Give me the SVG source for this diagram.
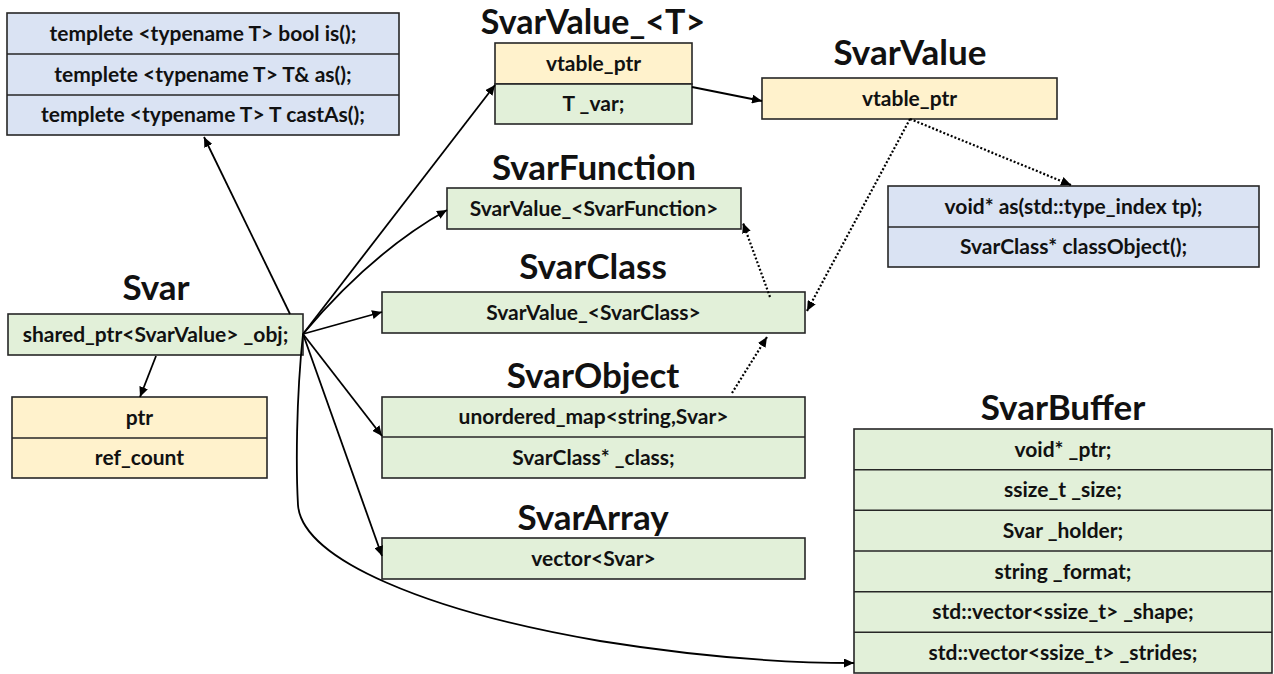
<svg xmlns="http://www.w3.org/2000/svg" width="1274" height="674" viewBox="0 0 1274 674">
<style>
.box{stroke:#262626;stroke-width:1.6}
.blue{fill:#DAE3F3}
.yel{fill:#FFF2CC}
.grn{fill:#E2F0D9}
.sep{stroke:#262626;stroke-width:1.6}
.t{font-family:Lato,"Liberation Sans",sans-serif;font-weight:bold;font-size:21px;fill:#111;text-anchor:middle}
.h{font-family:Lato,"Liberation Sans",sans-serif;font-weight:bold;font-size:35px;fill:#111;text-anchor:middle}
.c{fill:none;stroke:#000;stroke-width:1.8}
.d{fill:none;stroke:#000;stroke-width:2.2;stroke-dasharray:2 2}
</style>
<defs>
<marker id="a" markerUnits="userSpaceOnUse" markerWidth="10" markerHeight="9" refX="10" refY="4.5" orient="auto">
<path d="M0,0 L10,4.5 L0,9 z" fill="#000"/>
</marker>
</defs>
<g id="methods">
<rect class="box blue" x="7" y="13" width="392" height="122"/>
<line class="sep" x1="7" y1="54" x2="399" y2="54"/>
<line class="sep" x1="7" y1="95" x2="399" y2="95"/>
<text class="t" x="203" y="41">templete &lt;typename T&gt; bool is();</text>
<text class="t" x="203" y="82">templete &lt;typename T&gt; T&amp; as();</text>
<text class="t" x="203" y="122">templete &lt;typename T&gt; T castAs();</text>
</g>
<g id="SvarValueT">
<text class="h" x="593" y="34" style="font-size:34px">SvarValue_&lt;T&gt;</text>
<rect class="box yel" x="495" y="43" width="197" height="41"/>
<rect class="box grn" x="495" y="84" width="197" height="40"/>
<text class="t" x="593.5" y="71">vtable_ptr</text>
<text class="t" x="593.5" y="111">T _var;</text>
</g>
<g id="SvarValue">
<text class="h" x="910" y="65">SvarValue</text>
<rect class="box yel" x="762" y="78" width="295" height="41"/>
<text class="t" x="909.5" y="106">vtable_ptr</text>
</g>
<g id="vmethods">
<rect class="box blue" x="888" y="186" width="371" height="81"/>
<line class="sep" x1="888" y1="227" x2="1259" y2="227"/>
<text class="t" x="1073.5" y="214">void* as(std::type_index tp);</text>
<text class="t" x="1073.5" y="254">SvarClass* classObject();</text>
</g>
<g id="SvarFunction">
<text class="h" x="594" y="180">SvarFunction</text>
<rect class="box grn" x="447" y="188" width="294" height="41"/>
<text class="t" x="594" y="216">SvarValue_&lt;SvarFunction&gt;</text>
</g>
<g id="SvarClass">
<text class="h" x="593" y="279">SvarClass</text>
<rect class="box grn" x="382" y="292" width="423" height="41"/>
<text class="t" x="593.5" y="320">SvarValue_&lt;SvarClass&gt;</text>
</g>
<g id="SvarObject">
<text class="h" x="593" y="388">SvarObject</text>
<rect class="box grn" x="382" y="397" width="423" height="81"/>
<line class="sep" x1="382" y1="437" x2="805" y2="437"/>
<text class="t" x="593.5" y="424">unordered_map&lt;string,Svar&gt;</text>
<text class="t" x="593.5" y="465">SvarClass* _class;</text>
</g>
<g id="SvarArray">
<text class="h" x="593" y="530">SvarArray</text>
<rect class="box grn" x="382" y="538" width="423" height="41"/>
<text class="t" x="593.5" y="566">vector&lt;Svar&gt;</text>
</g>
<g id="Svar">
<text class="h" x="156" y="300">Svar</text>
<rect class="box grn" x="8" y="314" width="295" height="41"/>
<text class="t" x="155.5" y="342">shared_ptr&lt;SvarValue&gt; _obj;</text>
</g>
<g id="SharedPtr">
<rect class="box yel" x="12" y="397" width="255" height="81"/>
<line class="sep" x1="12" y1="438" x2="267" y2="438"/>
<text class="t" x="139.5" y="425">ptr</text>
<text class="t" x="139.5" y="465">ref_count</text>
</g>
<g id="SvarBuffer">
<text class="h" x="1063" y="420">SvarBuffer</text>
<rect class="box grn" x="854" y="429" width="418" height="244"/>
<line class="sep" x1="854" y1="469.7" x2="1272" y2="469.7"/>
<line class="sep" x1="854" y1="510.3" x2="1272" y2="510.3"/>
<line class="sep" x1="854" y1="551" x2="1272" y2="551"/>
<line class="sep" x1="854" y1="591.7" x2="1272" y2="591.7"/>
<line class="sep" x1="854" y1="632.3" x2="1272" y2="632.3"/>
<text class="t" x="1063" y="457">void* _ptr;</text>
<text class="t" x="1063" y="497">ssize_t  _size;</text>
<text class="t" x="1063" y="538">Svar _holder;</text>
<text class="t" x="1063" y="579">string _format;</text>
<text class="t" x="1063" y="619">std::vector&lt;ssize_t&gt; _shape;</text>
<text class="t" x="1063" y="660">std::vector&lt;ssize_t&gt; _strides;</text>
</g>
<g id="connectors">
<path class="c" marker-end="url(#a)" d="M290,314 L204,137"/>
<path class="c" marker-end="url(#a)" d="M303,334 L495,85"/>
<path class="c" marker-end="url(#a)" d="M303,334 Q372,252 447,210"/>
<path class="c" marker-end="url(#a)" d="M303,334 L382,312"/>
<path class="c" marker-end="url(#a)" d="M303,334 L382,436"/>
<path class="c" marker-end="url(#a)" d="M303,334 L382,556"/>
<path class="c" marker-end="url(#a)" d="M303,334 C296,400 296,470 298,505 C302,560 430,612 600,641 C700,657 790,663 854,663"/>
<path class="c" marker-end="url(#a)" d="M156,356 L140,397"/>
<path class="c" marker-end="url(#a)" d="M692,87 L762,101"/>
<path class="d" marker-end="url(#a)" d="M910,119 L1071,185"/>
<path class="d" marker-end="url(#a)" d="M910,119 L807,311"/>
<path class="d" marker-end="url(#a)" d="M770,297 L743,223"/>
<path class="d" marker-end="url(#a)" d="M732,393 L767,337"/>
</g>
</svg>
